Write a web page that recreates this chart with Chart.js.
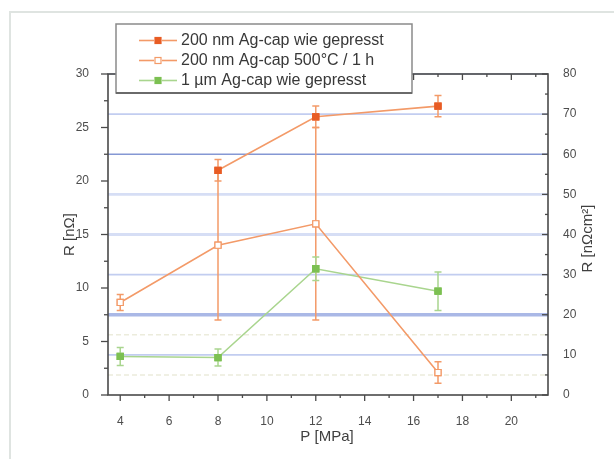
<!DOCTYPE html>
<html>
<head>
<meta charset="utf-8">
<script src="https://cdn.jsdelivr.net/npm/chart.js@4.4.1/dist/chart.umd.min.js"></script>
<style>
html,body{margin:0;padding:0;background:#fff;}
#wrap{position:relative;width:614px;height:459px;}
canvas{display:block;}
</style>
</head>
<body>
<div id="wrap"><canvas id="c" width="614" height="459"></canvas></div>
<script>
// ---- data ----
const pressures = [4, 8, 12, 17];
const seriesNames = ['200 nm Ag-cap wie gepresst', '200 nm Ag-cap 500\u00B0C / 1 h', '1 \u00B5m Ag-cap wie gepresst'];
const agcap200Pressed = [null, 21, 26, 27];
const agcap200PressedErr = [null, 1, 1, 1];
const agcap200Annealed = [8.65, 14, 16, 2.1];
const agcap200AnnealedErr = [0.75, 7, 9, 1];
const agcap1umPressed = [3.6, 3.5, 11.8, 9.7];
const agcap1umPressedErr = [0.85, 0.8, 1.1, 1.8];
const xTicks = [4, 6, 8, 10, 12, 14, 16, 18, 20];
const yTicks = [0, 5, 10, 15, 20, 25, 30];
const y2Ticks = [0, 10, 20, 30, 40, 50, 60, 70, 80];
const axisTitles = ['P [MPa]', 'R [n\u03A9]', 'R [n\u03A9cm\u00B2]'];

function pts(vals) {
  const out = [];
  vals.forEach((v, i) => { if (v !== null) out.push({x: pressures[i], y: v}); });
  return out;
}
function errs(vals) { return vals.filter(v => v !== null); }

const ORANGE_LINE = '#f39a68';
const ORANGE_MARK = '#e85c24';
const GREEN_LINE = '#a9d58e';
const GREEN_MARK = '#7cc052';
const AXIS = '#4a4a4a';
const FONT = '"Liberation Sans", Arial, sans-serif';

const datasets = [
  {label: seriesNames[0], data: pts(agcap200Pressed), err: errs(agcap200PressedErr),
   borderColor: ORANGE_LINE, backgroundColor: ORANGE_MARK, pointBorderColor: ORANGE_MARK,
   pointBackgroundColor: ORANGE_MARK, errColor: ORANGE_LINE, open: false},
  {label: seriesNames[1], data: pts(agcap200Annealed), err: errs(agcap200AnnealedErr),
   borderColor: ORANGE_LINE, backgroundColor: '#ffffff', pointBorderColor: ORANGE_LINE,
   pointBackgroundColor: '#ffffff', errColor: ORANGE_LINE, open: true},
  {label: seriesNames[2], data: pts(agcap1umPressed), err: errs(agcap1umPressedErr),
   borderColor: GREEN_LINE, backgroundColor: GREEN_MARK, pointBorderColor: GREEN_MARK,
   pointBackgroundColor: GREEN_MARK, errColor: GREEN_LINE, open: false}
].map(d => Object.assign({
  showLine: true, borderWidth: 1.6, pointStyle: 'rect', pointRadius: 4.3,
  pointBorderWidth: 1.2, tension: 0, yAxisID: 'y', xAxisID: 'x'
}, d));

const bgPlugin = {
  id: 'bg',
  beforeDraw(chart) {
    const ctx = chart.ctx;
    ctx.save();
    ctx.strokeStyle = '#dfe4e1';
    ctx.lineWidth = 2;
    ctx.beginPath();
    ctx.moveTo(10, 459); ctx.lineTo(10, 12); ctx.lineTo(614, 12);
    ctx.stroke();
    ctx.restore();
  },
  beforeDatasetsDraw(chart) {
    const {ctx, chartArea: a, scales} = chart;
    const y2 = scales.y2;
    const style = v => {
      if (v === 20) return ['#aab8e6', 3.5];
      if (v === 60) return ['#8598d4', 1.5];
      if (v === 40 || v === 50) return ['#d6def5', 2.8];
      return ['#c2cdf0', 1.6];
    };
    ctx.save();
    y2Ticks.forEach(v => {
      if (v === 0) return;
      const [c, w] = style(v);
      const py = y2.getPixelForValue(v);
      ctx.strokeStyle = c; ctx.lineWidth = w;
      ctx.beginPath(); ctx.moveTo(a.left, py); ctx.lineTo(a.right, py); ctx.stroke();
    });
    // faint dashed half-lines
    ctx.setLineDash([5, 3]);
    ctx.strokeStyle = '#ececdc';
    ctx.lineWidth = 1.5;
    [5, 15].forEach(v => {
      const py = y2.getPixelForValue(v);
      ctx.beginPath(); ctx.moveTo(a.left, py); ctx.lineTo(a.right, py); ctx.stroke();
    });
    ctx.restore();
  }
};

const errPlugin = {
  id: 'err',
  afterDatasetsDraw(chart) {
    const {ctx, scales} = chart;
    ctx.save();
    chart.data.datasets.forEach(ds => {
      ctx.strokeStyle = ds.errColor;
      ctx.lineWidth = 1.5;
      ds.data.forEach((p, i) => {
        const e = ds.err[i];
        const px = scales.x.getPixelForValue(p.x);
        const top = scales.y.getPixelForValue(p.y + e);
        const bot = scales.y.getPixelForValue(p.y - e);
        ctx.beginPath();
        ctx.moveTo(px, top); ctx.lineTo(px, bot);
        ctx.moveTo(px - 3.5, top); ctx.lineTo(px + 3.5, top);
        ctx.moveTo(px - 3.5, bot); ctx.lineTo(px + 3.5, bot);
        ctx.stroke();
      });
    });
    // redraw markers on top of error bars
    chart.data.datasets.forEach((ds, di) => {
      const meta = chart.getDatasetMeta(di);
      meta.data.forEach(el => el.draw(ctx, chart.chartArea));
    });
    ctx.restore();
  }
};

const framePlugin = {
  id: 'frame',
  afterDraw(chart) {
    const {ctx, chartArea: a, scales} = chart;
    ctx.save();
    ctx.strokeStyle = AXIS;
    ctx.lineWidth = 1.6;
    ctx.strokeRect(a.left, a.top, a.right - a.left, a.bottom - a.top);
    ctx.lineWidth = 1.3;
    const tick = (x1, y1, x2, y2) => { ctx.beginPath(); ctx.moveTo(x1, y1); ctx.lineTo(x2, y2); ctx.stroke(); };
    const mids = arr => {
      const m = [];
      for (let i = 0; i < arr.length - 1; i++) m.push((arr[i] + arr[i + 1]) / 2);
      return m;
    };
    // left axis (outward)
    yTicks.forEach(v => { const p = scales.y.getPixelForValue(v); tick(a.left - 7, p, a.left, p); });
    mids(yTicks).forEach(v => { const p = scales.y.getPixelForValue(v); tick(a.left - 4, p, a.left, p); });
    // right axis (inward)
    y2Ticks.forEach(v => { const p = scales.y2.getPixelForValue(v); tick(a.right - 6, p, a.right, p); });
    mids(y2Ticks).forEach(v => { const p = scales.y2.getPixelForValue(v); tick(a.right - 3, p, a.right, p); });
    // bottom (outward) and top (inward)
    const xMinor = mids(xTicks).concat([xTicks[xTicks.length - 1] + 1]);
    xTicks.forEach(v => { const p = scales.x.getPixelForValue(v); tick(p, a.bottom, p, a.bottom + 6); tick(p, a.top, p, a.top + 6); });
    xMinor.forEach(v => { const p = scales.x.getPixelForValue(v); tick(p, a.bottom, p, a.bottom + 3); tick(p, a.top, p, a.top + 3); });

    // axis titles
    ctx.fillStyle = '#404040';
    ctx.font = '15px ' + FONT;
    ctx.textAlign = 'center';
    ctx.textBaseline = 'middle';
    ctx.fillText(axisTitles[0], (a.left + a.right) / 2 - 1, 437);
    ctx.save();
    ctx.translate(70, (a.top + a.bottom) / 2);
    ctx.rotate(-Math.PI / 2);
    ctx.fillText(axisTitles[1], 0, 0);
    ctx.restore();
    ctx.save();
    ctx.translate(588, (a.top + a.bottom) / 2 + 4);
    ctx.rotate(-Math.PI / 2);
    ctx.fillText(axisTitles[2], 0, 0);
    ctx.restore();

    // legend box
    const lx = 116, ly = 24, lw = 296, lh = 69;
    ctx.fillStyle = '#ffffff';
    ctx.fillRect(lx, ly, lw, lh);
    ctx.strokeStyle = '#8a8a8a';
    ctx.lineWidth = 1.5;
    ctx.strokeRect(lx, ly, lw, lh);
    ctx.strokeStyle = '#6a6a6a';
    ctx.lineWidth = 2;
    tick(lx, ly + lh, lx + lw, ly + lh);
    chart.data.datasets.forEach((ds, i) => {
      const cy = 40.5 + i * 20;
      ctx.strokeStyle = ds.borderColor;
      ctx.lineWidth = 1.6;
      tick(139, cy, 154, cy);
      tick(162, cy, 177, cy);
      ctx.fillStyle = ds.pointBackgroundColor;
      ctx.fillRect(155, cy - 3, 6, 6);
      ctx.strokeStyle = ds.pointBorderColor;
      ctx.lineWidth = 1.2;
      ctx.strokeRect(155, cy - 3, 6, 6);
      ctx.fillStyle = '#383838';
      ctx.font = '16px ' + FONT;
      ctx.textAlign = 'left';
      ctx.textBaseline = 'middle';
      ctx.fillText(ds.label, 181, cy + 0.5);
    });
    ctx.restore();
  }
};

const tickFont = {family: FONT, size: 12};
new Chart(document.getElementById('c'), {
  type: 'scatter',
  data: {datasets},
  options: {
    responsive: false,
    animation: false,
    layout: {padding: {top: 74, left: 0, right: 0, bottom: 0}},
    plugins: {legend: {display: false}, tooltip: {enabled: false}},
    scales: {
      x: {
        type: 'linear', position: 'bottom', min: 3.5, max: 21.5,
        afterBuildTicks: s => { s.ticks = xTicks.map(v => ({value: v})); },
        afterFit: s => { s.height = 64; },
        ticks: {font: tickFont, color: '#4d4d4d', padding: 11, autoSkip: false, maxRotation: 0},
        grid: {display: false}, border: {display: false}
      },
      y: {
        type: 'linear', position: 'left', min: 0, max: 30,
        afterBuildTicks: s => { s.ticks = yTicks.map(v => ({value: v})); },
        afterFit: s => { s.width = 108; },
        ticks: {font: tickFont, color: '#4d4d4d', padding: 11},
        grid: {display: false}, border: {display: false}
      },
      y2: {
        type: 'linear', position: 'right', min: 0, max: 80,
        afterBuildTicks: s => { s.ticks = y2Ticks.map(v => ({value: v})); },
        afterFit: s => { s.width = 66; },
        ticks: {font: tickFont, color: '#4d4d4d', padding: 7},
        grid: {display: false}, border: {display: false}
      }
    }
  },
  plugins: [bgPlugin, errPlugin, framePlugin]
});
</script>
</body>
</html>
